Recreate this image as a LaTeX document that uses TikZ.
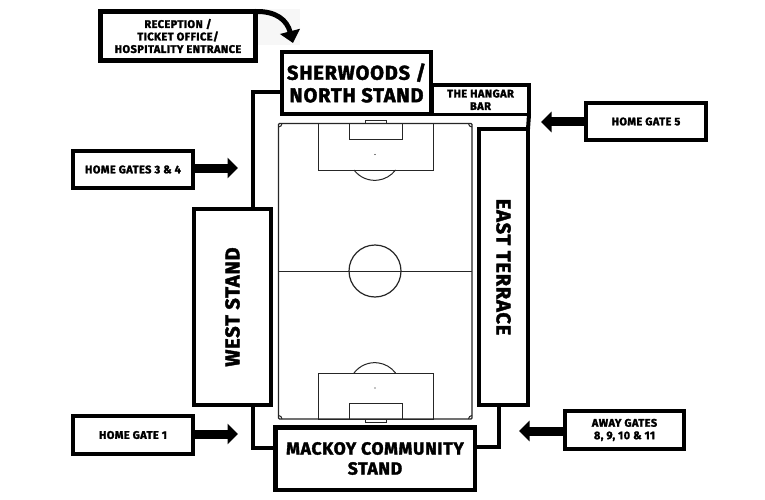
\documentclass[tikz,border=0pt]{standalone}
\usepackage{fontspec}
\setmainfont{Fira Sans}[BoldFeatures={FakeBold=2,LetterSpace=4}]
\usetikzlibrary{arrows.meta}
\tikzset{
  x=1pt,y=-1pt,
  blockbox/.style={draw=black,fill=white,line width=#1,inner sep=0pt,outer sep=0pt,align=center,font=\bfseries},
  blockbox/.default=4pt,
  small/.style={font=\fontsize{11}{12.5}\selectfont\bfseries},
  large/.style={font=\fontsize{20}{22.5}\selectfont\bfseries},
  largeless/.style={font=\fontsize{17.5}{20}\selectfont\bfseries},
  link/.style={draw=black,line width=4pt,line cap=butt,line join=miter},
  gatearrow/.style={draw=black,line width=9pt,-{Triangle[length=10.5pt,width=20pt]}},
  pitchline/.style={draw=black!85,line width=1pt}
}
\begin{document}
\begin{tikzpicture}
\useasboundingbox (0,0) rectangle (765,500);
\fill[white] (0,0) rectangle (765,500);
\fill[black!3] (258,9) rectangle (300,45);

% pitch
\coordinate (pnw) at (278.5,123.5);
\coordinate (pse) at (472,419);
\draw[pitchline,line width=1.2pt,rounded corners=1pt] (pnw) rectangle (pse);
\draw[pitchline] (pnw |- 0,271) -- (pse |- 0,271);
\draw[pitchline,line width=1.2pt] (375,271) circle (26);
\draw[pitchline] (318,123.5) rectangle (433,170);
\draw[pitchline] (349,123.5) rectangle (402,139);
\draw[pitchline] (365,120.5) rectangle (386,123.5);
\draw[pitchline] (318,373) rectangle (433,419);
\draw[pitchline] (349,403) rectangle (402,419);
\draw[pitchline] (365,419) rectangle (386,422);
\draw[pitchline] (354,170) arc[start angle=217,end angle=323,radius=26,y radius=-26];
\draw[pitchline] (354,373) arc[start angle=143,end angle=37,radius=26,y radius=-26];
\fill (375,154.5) circle (.6);
\fill (375,388) circle (.6);
\draw[pitchline] (278.5,127) arc[start angle=270,end angle=360,radius=3.5,y radius=-3.5];
\draw[pitchline] (468.5,123.5) arc[start angle=180,end angle=270,radius=3.5,y radius=-3.5];
\draw[pitchline] (278.5,415.5) arc[start angle=90,end angle=0,radius=3.5,y radius=-3.5];
\draw[pitchline] (468.5,419) arc[start angle=180,end angle=90,radius=3.5,y radius=-3.5];

% nodes
\node[blockbox=5pt,small,minimum width=155,minimum height=49] (reception) at (178,36) {RECEPTION /\\TICKET OFFICE/\\HOSPITALITY ENTRANCE};
\node[blockbox=4.5pt,large,minimum width=149,minimum height=62] (north) at (356.5,83) {SHERWOODS /\\NORTH STAND};
\node[blockbox=3.5pt,small,minimum width=97,minimum height=29.5] (bar) at (480.5,99.75) {THE HANGAR\\BAR};
\node[blockbox=4pt,small,minimum width=120,minimum height=37] (gate5) at (646,121.5) {HOME GATE 5};
\node[blockbox=4pt,small,minimum width=120,minimum height=37] (gate34) at (133,169.5) {HOME GATES 3 \& 4};
\node[blockbox=4pt,large,minimum width=77,minimum height=196] (west) at (232.5,307) {\rotatebox{90}{WEST STAND}};
\node[blockbox=4pt,large,minimum width=49,minimum height=276] (east) at (503.5,267) {\rotatebox{-90}{EAST TERRACE}};
\node[blockbox=4pt,small,minimum width=120,minimum height=38] (gate1) at (133,435) {HOME GATE 1};
\node[blockbox=4pt,small,minimum width=119,minimum height=38] (away) at (624.5,430) {AWAY GATES\\8, 9, 10 \& 11};
\node[blockbox=4.5pt,largeless,minimum width=199.5,minimum height=62.5] (south) at (375,458.5) {MACKOY COMMUNITY\\STAND};

% stand outline
\coordinate (tl) at (253,92.5);
\coordinate (bl) at (253,447.5);
\coordinate (br) at (499,447);
\draw[link] (north.west |- tl) -- (tl) -- (west.north -| tl);
\draw[link] (west.south -| bl) -- (bl) -- (south.west |- bl);
\draw[link] (east.south -| br) -- (br) -- (south.east |- br);
\draw[link] (bar.south east) -- (east.north east);

% gate arrows
\coordinate (t5) at (541,122);
\coordinate (t34) at (238,168);
\coordinate (t1) at (238,434);
\coordinate (taway) at (519,431);
\coordinate (trec) at (293,43);
\draw[gatearrow] (gate5.west |- t5) -- (t5);
\draw[gatearrow] (gate34.east |- t34) -- (t34);
\draw[gatearrow] (gate1.east |- t1) -- (t1);
\draw[gatearrow] (away.west |- taway) -- (taway);
\draw[draw=black,line width=5pt,-{Triangle[length=12pt,width=20pt]}] (reception.north east) .. controls (276,11) and (287,20) .. (trec);
\end{tikzpicture}
\end{document}
